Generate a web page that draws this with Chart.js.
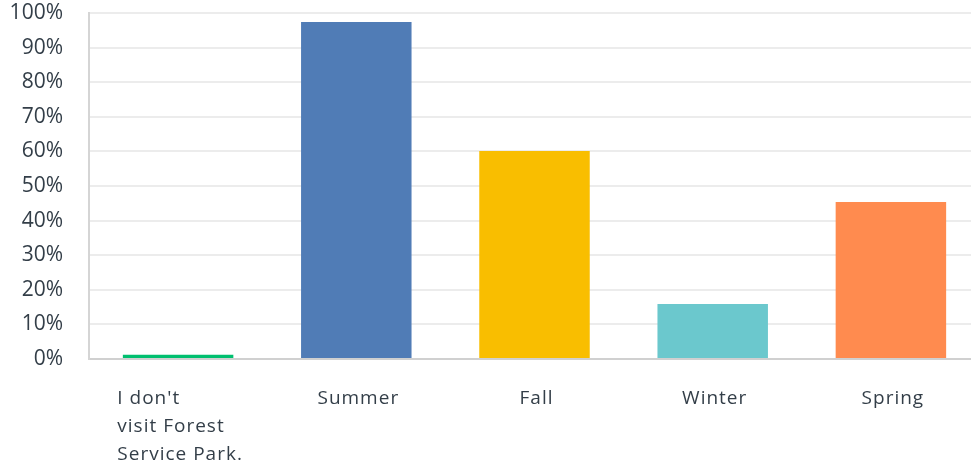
<!DOCTYPE html>
<html>
<head>
<meta charset="utf-8">
<script src="https://cdn.jsdelivr.net/npm/chart.js@4"></script>
<style>
html,body{margin:0;padding:0;background:#fff;overflow:hidden;}
#wrap{position:relative;width:980px;height:469px;}
</style>
</head>
<body>
<div id="wrap"><canvas id="c" width="980" height="469"></canvas></div>
<script>
const categories = [["I don't", "visit Forest", "Service Park."], ["Summer"], ["Fall"], ["Winter"], ["Spring"]];
const values = [1.2, 97.4, 60.1, 15.9, 45.4];
const barColors = ["#00bf6f", "#507cb6", "#f9be00", "#6bc8cd", "#ff8b4f"];
const yTicks = [0, 10, 20, 30, 40, 50, 60, 70, 80, 90, 100];

const FONT = "'Open Sans', sans-serif";
const TEXT = "#333e48";

const labelPlugin = {
  id: 'leftLabels',
  afterDraw(chart) {
    const ctx = chart.ctx;
    const xs = chart.scales.x;
    ctx.save();
    ctx.font = "19px " + FONT;
    ctx.fillStyle = TEXT;
    ctx.textAlign = 'left';
    ctx.textBaseline = 'alphabetic';
    try { ctx.letterSpacing = '1px'; } catch(e) {}
    categories.forEach((lines, i) => {
      const cx = xs.getPixelForTick(i);
      let maxW = 0;
      lines.forEach(l => { maxW = Math.max(maxW, ctx.measureText(l).width); });
      const left = cx - maxW / 2 + 2;
      lines.forEach((l, j) => {
        ctx.fillText(l, left, 404 + j * 28);
      });
    });
    ctx.restore();
  }
};

new Chart(document.getElementById('c'), {
  type: 'bar',
  data: {
    labels: categories.map(c => c.join(' ')),
    datasets: [{
      data: values,
      backgroundColor: barColors,
      borderWidth: 0,
      barPercentage: 0.62,
      categoryPercentage: 1.0
    }]
  },
  options: {
    responsive: false,
    animation: false,
    devicePixelRatio: 1,
    layout: { padding: { top: 13, bottom: 110, left: 0, right: 0 } },
    plugins: { legend: { display: false }, tooltip: { enabled: false } },
    scales: {
      x: {
        grid: { display: false, drawTicks: false },
        border: { display: true, color: '#d0d0d0', width: 2 },
        ticks: { display: false }
      },
      y: {
        min: 0, max: 100,
        afterBuildTicks(scale) { scale.ticks = yTicks.map(v => ({ value: v })); },
        grid: { color: '#ececec', lineWidth: 2, drawTicks: false },
        border: { display: true, color: '#d5d5d5', width: 2 },
        ticks: {
          padding: 26,
          color: TEXT,
          font: { family: FONT, size: 21 },
          callback: v => v + '%'
        },
        afterFit(scale) { scale.width = 89; scale.paddingTop = 0; scale.paddingBottom = 0; }
      }
    }
  },
  plugins: [labelPlugin]
});
</script>
</body>
</html>
